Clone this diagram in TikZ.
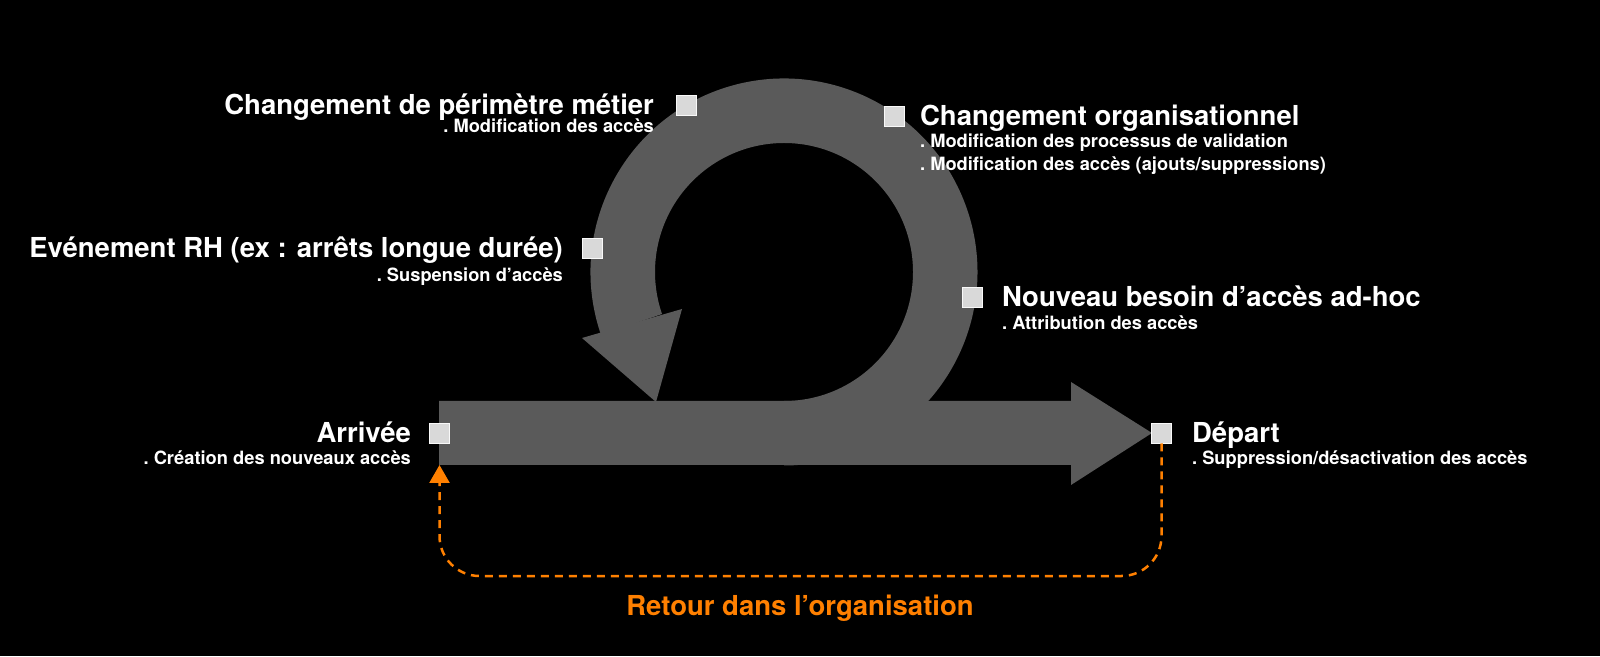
\documentclass[tikz,border=0pt]{standalone}
\usepackage{fontspec}
\setmainfont{TeX Gyre Heros}
\usetikzlibrary{positioning,arrows.meta}
\definecolor{grisfleche}{RGB}{90,90,90}
\definecolor{griscarre}{RGB}{217,217,217}
\definecolor{orangeretour}{RGB}{255,128,0}

\begin{document}
\begin{tikzpicture}[x=1pt,y=1pt,
        carre/.style={draw=white!85!griscarre, line width=0.8pt, fill=griscarre, minimum size=20pt, inner sep=0pt},
        titre/.style={text=white, font=\bfseries\fontsize{27.5}{30}\selectfont, inner sep=0pt, text height=19pt, text depth=0pt},
        detail/.style={text=white, font=\bfseries\fontsize{18.3}{23}\selectfont\frenchspacing, inner sep=0pt, align=left},
        retour/.style={orangeretour, line width=2.5pt, dash pattern=on 8pt off 6pt, rounded corners=40pt}]
        \fill[black] (0,0) rectangle (1600,656);
        \useasboundingbox (0,0) rectangle (1600,656);

        % grande fleche
        \fill[grisfleche] (439,255) -- (1071,255) -- (1071,274) -- (1152,223) -- (1071,171) -- (1071,191) -- (439,191) -- cycle;
        % boucle
        \fill[grisfleche] (784,384) ++(-90:129) arc[start angle=-90, end angle=199, radius=129]
            -- ([shift={(784,384)}]199:193.5) arc[start angle=199, end angle=-90, radius=193.5] -- cycle;
        \fill[grisfleche] (582,318) -- (682,347) -- (656,254) -- cycle;

        \node[carre] (sqarrivee) at (439.5,223) {};
        \node[carre] (sqdepart) at (1161.5,223) {};
        \node[carre] (sqperim) at (686.5,550.5) {};
        \node[carre] (sqorga) at (894.5,540) {};
        \node[carre] (sqrh) at (592.5,408) {};
        \node[carre] (sqbesoin) at (972.5,359) {};

        \node[titre, left=22pt of sqperim] (perim) {Changement de périmètre métier};
        \node[detail, anchor=base east] (perimdet) at ([yshift=-17pt]perim.south east) {. Modification des accès};
        \node[titre, right=15pt of sqorga] (orga) {Changement organisationnel};
        % base = derniere ligne
        \node[detail, anchor=base west] (orgadet) at ([yshift=-45pt]orga.south west)
            {. Modification des processus de validation\\. Modification des accès (ajouts/suppressions)};
        \node[titre, left=19pt of sqrh] (rh) {Evénement RH (ex : arrêts longue durée)};
        \node[detail, anchor=base east] (rhdet) at ([yshift=-24pt]rh.south east) {. Suspension d’accès};
        \node[titre, right=19pt of sqbesoin] (besoin) {Nouveau besoin d’accès ad-hoc};
        \node[detail, anchor=base west] (besoindet) at ([yshift=-23pt]besoin.south west) {. Attribution des accès};
        \node[titre, left=18pt of sqarrivee] (arrivee) {Arrivée};
        \node[detail, anchor=base east] (arriveedet) at ([yshift=-22pt]arrivee.south east) {. Création des nouveaux accès};
        \node[titre, right=20pt of sqdepart] (depart) {Départ};
        \node[detail, anchor=base west] (departdet) at ([yshift=-22pt]depart.south west) {. Suppression/désactivation des accès};

        % retour
        \coordinate (bas) at (800,80);
        \coordinate (pointe) at (439.5,191);
        \draw[retour, -{Triangle[length=18pt,width=20pt]}] (sqdepart.south) -- (sqdepart.south |- bas) -- (pointe |- bas) -- (pointe);
        \node[text=orangeretour, font=\bfseries\fontsize{27.5}{30}\selectfont, anchor=base] (retourtxt) at (800,41) {Retour dans l’organisation};
\end{tikzpicture}
\end{document}
